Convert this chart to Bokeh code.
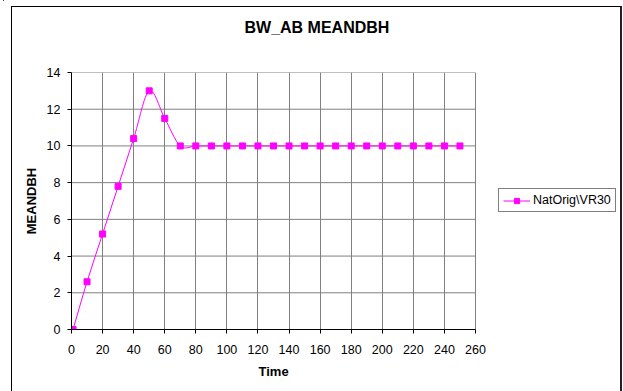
import numpy as np
from bokeh.plotting import figure
from bokeh.models import (Legend, LegendItem, FixedTicker, Range1d,
                          ColumnDataSource, Title, InlineStyleSheet)
from bokeh.embed import file_html
from bokeh.resources import INLINE

# ---- data ----
title_text = "BW_AB MEANDBH"
x_label = "Time"
y_label = "MEANDBH"
series_name = "NatOrig\\VR30"
time = [1, 10, 20, 30, 40, 50, 60, 70, 80, 90, 100, 110, 120, 130, 140, 150,
        160, 170, 180, 190, 200, 210, 220, 230, 240, 250]
meandbh = [0.0, 2.6, 5.2, 7.8, 10.4, 13.0, 11.5, 10.0, 10.0, 10.0, 10.0, 10.0,
           10.0, 10.0, 10.0, 10.0, 10.0, 10.0, 10.0, 10.0, 10.0, 10.0, 10.0,
           10.0, 10.0, 10.0]
x_ticks = list(range(0, 261, 20))
y_ticks = list(range(0, 15, 2))

MAG = "#FF00FF"
GRID = "#808080"
FONT = "Liberation Sans"

# layout: plot area 404 px wide, frame extended to the right edge so the
# legend (which sits right of the plot area) can live inside the frame
PLOT_W, FRAME_W, FRAME_H = 404, 552, 257
x_min, x_max = x_ticks[0], x_ticks[-1]
x_end = x_min + (x_max - x_min) * FRAME_W / PLOT_W

p = figure(frame_width=FRAME_W, frame_height=FRAME_H,
           x_range=Range1d(x_min, x_end), y_range=Range1d(y_ticks[0], y_ticks[-1]),
           output_backend="svg", toolbar_location=None,
           min_border_left=71, min_border_right=0,
           min_border_top=72, min_border_bottom=62)
p.background_fill_color = "white"
p.border_fill_color = "white"
p.outline_line_color = None
p.title = None

# outer chart frame, drawn around the canvas by CSS
p.stylesheets = [InlineStyleSheet(css="""
:host { position: relative; }
:host::after { content: ""; position: absolute; left: 11px; top: 6px;
  width: 608px; height: 420px; border: 1px solid #000; pointer-events: none;
  border-right: 2px solid #222; }
:host::before { content: ""; position: absolute; left: 3px; top: 0px;
  width: 1px; height: 100%; background: #000; pointer-events: none; }
""")]

# spacer between frame and title, then the title itself
p.add_layout(Title(text=" ", text_font_size="1px", standoff=34), "above")
p.add_layout(Title(text=title_text, align="left", offset=173, standoff=0,
                   vertical_align="bottom", text_font=FONT,
                   text_font_size="16px", text_font_style="bold",
                   text_color="black"), "above")

for ax, ticks in ((p.xaxis[0], x_ticks), (p.yaxis[0], y_ticks)):
    ax.ticker = FixedTicker(ticks=ticks)
    ax.bounds = (ticks[0], ticks[-1])
    ax.axis_line_color = "black"
    ax.axis_line_width = 1
    ax.major_tick_line_color = "black"
    ax.major_tick_in = 0
    ax.major_tick_out = 4
    ax.minor_tick_line_color = None
    ax.major_label_text_font = FONT
    ax.major_label_text_font_size = "12.5px"
    ax.major_label_text_color = "black"
    ax.axis_label_text_font = FONT
    ax.axis_label_text_font_size = "13px"
    ax.axis_label_text_font_style = "bold"
    ax.axis_label_text_color = "black"

p.yaxis.axis_label = y_label
p.xaxis.major_label_standoff = 11
p.yaxis.major_label_standoff = 7
p.yaxis.axis_label_standoff = 5

# x axis title, centred under the plot area (not the extended frame)
p.add_layout(Title(text=x_label, align="left", offset=187, standoff=14,
                   vertical_align="top", text_font=FONT,
                   text_font_size="13px", text_font_style="bold",
                   text_color="black"), "below")

# vertical grid lines (span the full frame height = plot area height)
p.xgrid.ticker = FixedTicker(ticks=x_ticks)
p.xgrid.grid_line_color = GRID
p.xgrid.grid_line_width = 1
# horizontal grid lines limited to the plot area
p.ygrid.visible = False
p.segment(x0=[x_min] * len(y_ticks), x1=[x_max] * len(y_ticks),
          y0=y_ticks, y1=y_ticks, line_color=GRID, line_width=1)

# smoothed line (Catmull-Rom style bezier, as spreadsheet smoothing)
xs = np.array(time, dtype=float)
ys = np.array(meandbh, dtype=float)
n = len(xs)
i0 = np.arange(n - 1)
i1 = i0 + 1
prev_i = np.clip(i0 - 1, 0, n - 1)
next_i = np.clip(i0 + 2, 0, n - 1)
src = ColumnDataSource(dict(
    x0=xs[i0], y0=ys[i0], x1=xs[i1], y1=ys[i1],
    cx0=xs[i0] + (xs[i1] - xs[prev_i]) / 6.0,
    cy0=ys[i0] + (ys[i1] - ys[prev_i]) / 6.0,
    cx1=xs[i1] - (xs[next_i] - xs[i0]) / 6.0,
    cy1=ys[i1] - (ys[next_i] - ys[i0]) / 6.0,
))
curve = p.bezier(x0="x0", y0="y0", x1="x1", y1="y1", cx0="cx0", cy0="cy0",
                 cx1="cx1", cy1="cy1", source=src, line_color=MAG, line_width=1)
pts = p.scatter(time, meandbh, marker="square", size=6, fill_color=MAG,
                line_color=MAG)

legend = Legend(items=[LegendItem(label=series_name, renderers=[curve, pts])],
                location=(427, 117), orientation="vertical")
legend.border_line_color = "black"
legend.border_line_width = 1
legend.background_fill_color = "white"
legend.label_text_font = FONT
legend.label_text_font_size = "12.5px"
legend.label_text_color = "black"
legend.glyph_width = 27
legend.glyph_height = 13
legend.label_height = 13
legend.label_standoff = 3
legend.padding = 4
legend.spacing = 0
legend.margin = 0
p.add_layout(legend, "center")

open("out.html", "w").write(file_html(p, INLINE))
